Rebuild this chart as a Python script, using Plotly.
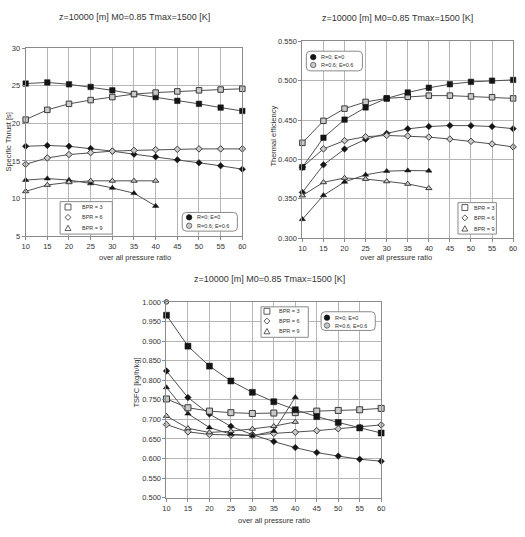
import plotly.graph_objects as go

# ---------------- data ----------------
pr = [10, 15, 20, 25, 30, 35, 40, 45, 50, 55, 60]
pr9 = [10, 15, 20, 25, 30, 35, 40]

# Specific thrust [s]
st_bpr3_r0 = [25.3, 25.45, 25.2, 24.85, 24.4, 23.9, 23.5, 23.0, 22.6, 22.1, 21.65]
st_bpr3_r6 = [20.5, 21.8, 22.6, 23.1, 23.5, 23.9, 24.1, 24.25, 24.4, 24.5, 24.6]
st_bpr6_r0 = [16.95, 17.05, 16.95, 16.65, 16.3, 15.9, 15.55, 15.15, 14.75, 14.35, 13.9]
st_bpr6_r6 = [14.55, 15.4, 15.85, 16.1, 16.3, 16.4, 16.5, 16.55, 16.6, 16.6, 16.6]
st_bpr9_r0 = [12.45, 12.65, 12.45, 12.0, 11.4, 10.7, 9.0]
st_bpr9_r6 = [10.95, 11.8, 12.15, 12.35, 12.35, 12.35, 12.35]

# Thermal efficiency
te_bpr3_r0 = [0.390, 0.4275, 0.4505, 0.466, 0.4775, 0.485, 0.491, 0.4955, 0.4985, 0.500, 0.501]
te_bpr3_r6 = [0.421, 0.449, 0.4645, 0.473, 0.4775, 0.4795, 0.481, 0.481, 0.480, 0.479, 0.4775]
te_bpr6_r0 = [0.358, 0.393, 0.413, 0.4255, 0.433, 0.4388, 0.4417, 0.443, 0.4428, 0.4417, 0.439]
te_bpr6_r6 = [0.390, 0.4133, 0.4238, 0.4288, 0.4304, 0.4298, 0.4283, 0.4258, 0.4229, 0.4196, 0.4158]
te_bpr9_r0 = [0.3238, 0.3542, 0.3713, 0.3804, 0.385, 0.3858, 0.3855]
te_bpr9_r6 = [0.354, 0.3708, 0.3763, 0.375, 0.372, 0.3688, 0.3633]

# TSFC [kg/h/kg]
ts_bpr3_r0 = [0.966, 0.887, 0.836, 0.798, 0.769, 0.745, 0.7245, 0.707, 0.692, 0.678, 0.665]
ts_bpr3_r6 = [0.752, 0.7295, 0.721, 0.717, 0.715, 0.716, 0.717, 0.721, 0.7227, 0.7244, 0.728]
ts_bpr6_r0 = [0.8235, 0.7555, 0.7134, 0.682, 0.661, 0.643, 0.6277, 0.615, 0.606, 0.598, 0.593]
ts_bpr6_r6 = [0.6866, 0.668, 0.6613, 0.6597, 0.659, 0.664, 0.667, 0.671, 0.676, 0.680, 0.6857]
ts_bpr9_r0 = [0.7815, 0.7143, 0.679, 0.662, 0.658, 0.670, 0.7563]
ts_bpr9_r6 = [0.7084, 0.677, 0.6664, 0.6697, 0.6756, 0.6824, 0.6933]
ts_extra_x = [10]
ts_extra_y = [1.000]

title_text = "z=10000 [m] M0=0.85 Tmax=1500 [K]"
xlabel = "over all pressure ratio"
bpr_labels = ["BPR = 3", "BPR = 6", "BPR = 9"]
r_labels = ["R=0; E=0", "R=0.6; E=0.6"]

# ---------------- layout helpers ----------------
W, H = 525, 537
FONT = "Liberation Sans, Arial, sans-serif"
TXT = "#333333"


def px(x):
    return x / W


def py(y):
    return 1 - y / H


fig = go.Figure()

BLACK = dict(color="#151515", line=dict(color="#151515", width=0.5))
GRAY = dict(color="#c9c9c9", line=dict(color="#3a3a3a", width=1))


def series(x, y, ax, symbol, style, size):
    xa = "x" if ax == 1 else f"x{ax}"
    ya = "y" if ax == 1 else f"y{ax}"
    fig.add_trace(go.Scatter(
        x=x, y=y, xaxis=xa, yaxis=ya, mode="lines+markers",
        line=dict(color="#505050", width=1),
        marker=dict(symbol=symbol, size=size, **style),
        cliponaxis=False, showlegend=False, hoverinfo="x+y"))


# chart 1
series(pr, st_bpr3_r0, 1, "square", BLACK, 5.5)
series(pr, st_bpr3_r6, 1, "square", GRAY, 5.5)
series(pr, st_bpr6_r0, 1, "diamond", BLACK, 5)
series(pr, st_bpr6_r6, 1, "diamond", GRAY, 5)
series(pr9, st_bpr9_r0, 1, "triangle-up", BLACK, 5.5)
series(pr9, st_bpr9_r6, 1, "triangle-up", GRAY, 5.5)
# chart 2
series(pr, te_bpr6_r0, 2, "diamond", BLACK, 5)
series(pr, te_bpr6_r6, 2, "diamond", GRAY, 5)
series(pr9, te_bpr9_r0, 2, "triangle-up", BLACK, 5.5)
series(pr9, te_bpr9_r6, 2, "triangle-up", GRAY, 5.5)
series(pr, te_bpr3_r6, 2, "square", GRAY, 5.5)
series(pr, te_bpr3_r0, 2, "square", BLACK, 5.5)
# chart 3
series(pr, ts_bpr6_r0, 3, "diamond", BLACK, 5)
series(pr, ts_bpr6_r6, 3, "diamond", GRAY, 5)
series(pr9, ts_bpr9_r0, 3, "triangle-up", BLACK, 5.5)
series(pr9, ts_bpr9_r6, 3, "triangle-up", GRAY, 5.5)
series(pr, ts_bpr3_r6, 3, "square", GRAY, 6)
series(pr, ts_bpr3_r0, 3, "square", BLACK, 6)
fig.add_trace(go.Scatter(x=ts_extra_x, y=ts_extra_y, xaxis="x3", yaxis="y3",
                         mode="markers", marker=dict(symbol="circle", size=4.5, **GRAY),
                         cliponaxis=False, showlegend=False))

# ---------------- axes ----------------
def xax(dom):
    return dict(domain=dom, range=[10, 60], tickmode="array", tickvals=pr,
                showgrid=True, gridcolor="#b5b5b5", gridwidth=1,
                showline=True, linecolor="#8a8a8a", linewidth=1, mirror=True,
                ticks="outside", ticklen=3, tickcolor="#8a8a8a",
                tickfont=dict(family=FONT, size=7.5, color=TXT), zeroline=False)


def yax(dom, rng, dt, fmt):
    return dict(domain=dom, range=rng, dtick=dt, tick0=rng[0], tickformat=fmt,
                showgrid=True, gridcolor="#b5b5b5", gridwidth=1,
                showline=True, linecolor="#8a8a8a", linewidth=1, mirror=True,
                ticks="outside", ticklen=3, tickcolor="#8a8a8a",
                tickfont=dict(family=FONT, size=7.5, color=TXT), zeroline=False)


fig.update_layout(
    width=W, height=H, margin=dict(l=0, r=0, t=0, b=0),
    paper_bgcolor="white", plot_bgcolor="white",
    xaxis=dict(xax([px(22), px(242)]), anchor="y"),
    yaxis=dict(yax([py(236), py(45)], [5, 30], 5, "d"), anchor="x"),
    xaxis2=dict(xax([px(303), px(517)]), anchor="y2"),
    yaxis2=dict(yax([py(238), py(38)], [0.3, 0.55], 0.05, ".3f"), anchor="x2"),
    xaxis3=dict(xax([px(165), px(383)]), anchor="y3"),
    yaxis3=dict(yax([py(502), py(303)], [0.5, 1.0], 0.05, ".3f"), anchor="x3"),
    showlegend=False,
)

ann = []


def text(x, y, s, size, xanchor="center", angle=0):
    ann.append(dict(x=px(x), y=py(y), xref="paper", yref="paper", text=s,
                    showarrow=False, xanchor=xanchor, yanchor="middle",
                    textangle=angle, font=dict(family=FONT, size=size, color=TXT)))


# titles
text(133, 13, title_text, 9)
text(400, 14, title_text, 9)
text(270, 280, title_text, 9)
# axis titles
text(133, 258, xlabel, 7.5)
text(398, 258, xlabel, 7.5)
text(274, 525, xlabel, 7.5)
text(5, 140, "Specific Thrust [s]", 7.5, angle=-90)
text(274, 134, "Thermal efficiency", 7.5, angle=-90)
text(135, 385, "TSFC [kg/h/kg]", 7.5, angle=-90)

shapes = []


def rect_box(x0, y0, x1, y1):
    shapes.append(dict(type="rect", xref="paper", yref="paper",
                       x0=px(x0), x1=px(x1), y0=py(y1), y1=py(y0),
                       line=dict(color="#8a8a8a", width=1), fillcolor="white"))


def round_box(x0, y0, x1, y1, r=4):
    def P(x, y):
        return f"{px(x):.5f},{py(y):.5f}"
    path = (f"M{P(x0 + r, y0)} L{P(x1 - r, y0)} Q{P(x1, y0)} {P(x1, y0 + r)} "
            f"L{P(x1, y1 - r)} Q{P(x1, y1)} {P(x1 - r, y1)} L{P(x0 + r, y1)} "
            f"Q{P(x0, y1)} {P(x0, y1 - r)} L{P(x0, y0 + r)} Q{P(x0, y0)} {P(x0 + r, y0)} Z")
    shapes.append(dict(type="path", xref="paper", yref="paper", path=path,
                       line=dict(color="#8a8a8a", width=1), fillcolor="white"))


def sym(kind, cx, cy, s, fill, line="#333333"):
    h = s / 2
    if kind == "square":
        shapes.append(dict(type="rect", xref="paper", yref="paper",
                           x0=px(cx - h), x1=px(cx + h), y0=py(cy + h), y1=py(cy - h),
                           line=dict(color=line, width=0.8), fillcolor=fill))
    elif kind == "circle":
        shapes.append(dict(type="circle", xref="paper", yref="paper",
                           x0=px(cx - h), x1=px(cx + h), y0=py(cy + h), y1=py(cy - h),
                           line=dict(color=line, width=0.8), fillcolor=fill))
    else:
        if kind == "diamond":
            pts = [(cx, cy - h), (cx + h, cy), (cx, cy + h), (cx - h, cy)]
        else:
            pts = [(cx, cy - h), (cx + h, cy + h * 0.8), (cx - h, cy + h * 0.8)]
        path = "M" + " L".join(f"{px(a):.5f},{py(b):.5f}" for a, b in pts) + " Z"
        shapes.append(dict(type="path", xref="paper", yref="paper", path=path,
                           line=dict(color=line, width=0.8), fillcolor=fill))


def bpr_legend(x0, y0, x1, y1, sx, tx, ys):
    rect_box(x0, y0, x1, y1)
    for kind, yy, lab in zip(["square", "diamond", "triangle"], ys, bpr_labels):
        sym(kind, sx, yy, 6, "white")
        text(tx, yy, lab, 5.5, xanchor="left")


def r_legend(x0, y0, x1, y1, sx, tx, ys):
    round_box(x0, y0, x1, y1)
    sym("circle", sx, ys[0], 5.5, "#151515", "#151515")
    text(tx, ys[0], r_labels[0], 5.5, xanchor="left")
    sym("circle", sx, ys[1], 5.5, "#c9c9c9", "#555555")
    text(tx, ys[1], r_labels[1], 5.5, xanchor="left")


# chart 1 legends
bpr_legend(57, 201, 110, 234, 65, 77, [206.5, 217, 228])
r_legend(181, 212, 237, 231, 188, 194, [217, 225.5])
# chart 2 legends
r_legend(307, 48, 364, 68, 314, 320, [54, 62])
bpr_legend(461, 202, 500, 234, 468, 475, [207, 217.5, 228.5])
# chart 3 legends
bpr_legend(261, 308, 309, 339, 267, 277, [312.5, 322.5, 333])
r_legend(322, 313, 377, 332, 328, 334, [319, 327])

fig.update_layout(annotations=ann, shapes=shapes)
fig.write_html("out.html")
